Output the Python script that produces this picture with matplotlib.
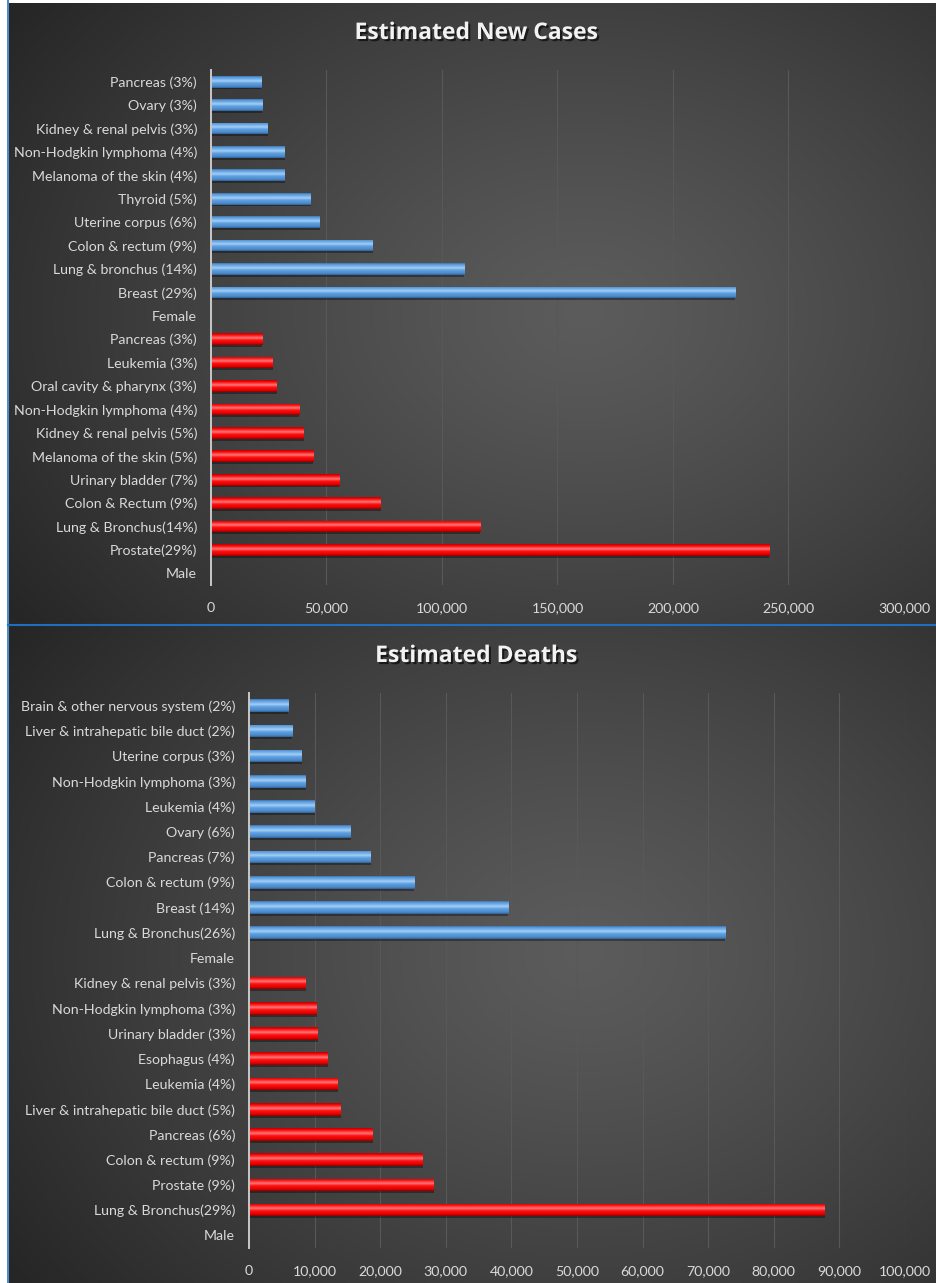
import numpy as np
import matplotlib
matplotlib.use("Agg")
import matplotlib.pyplot as plt
from matplotlib.colors import LinearSegmentedColormap
from matplotlib.lines import Line2D
from matplotlib.ticker import FuncFormatter
import matplotlib.patheffects as pe

plt.rcParams['font.family'] = ['Lato', 'DejaVu Sans']

# ---- data (2012 estimates) ----
cases_female_labels = ["Pancreas (3%)", "Ovary (3%)", "Kidney & renal pelvis (3%)",
                       "Non-Hodgkin lymphoma (4%)", "Melanoma of the skin (4%)", "Thyroid (5%)",
                       "Uterine corpus (6%)", "Colon & rectum (9%)", "Lung & bronchus (14%)",
                       "Breast (29%)"]
cases_female = [21830, 22280, 24520, 31970, 32000, 43210, 47130, 70040, 109690, 226870]

cases_male_labels = ["Pancreas (3%)", "Leukemia (3%)", "Oral cavity & pharynx (3%)",
                     "Non-Hodgkin lymphoma (4%)", "Kidney & renal pelvis (5%)",
                     "Melanoma of the skin (5%)", "Urinary bladder (7%)", "Colon & Rectum (9%)",
                     "Lung & Bronchus(14%)", "Prostate(29%)"]
cases_male = [22090, 26830, 28540, 38160, 40250, 44250, 55600, 73420, 116470, 241740]

deaths_female_labels = ["Brain & other nervous system (2%)", "Liver & intrahepatic bile duct (2%)",
                        "Uterine corpus (3%)", "Non-Hodgkin lymphoma (3%)", "Leukemia (4%)",
                        "Ovary (6%)", "Pancreas (7%)", "Colon & rectum (9%)", "Breast (14%)",
                        "Lung & Bronchus(26%)"]
deaths_female = [5980, 6570, 8010, 8620, 10040, 15500, 18540, 25220, 39510, 72590]

deaths_male_labels = ["Kidney & renal pelvis (3%)", "Non-Hodgkin lymphoma (3%)",
                      "Urinary bladder (3%)", "Esophagus (4%)", "Leukemia (4%)",
                      "Liver & intrahepatic bile duct (5%)", "Pancreas (6%)",
                      "Colon & rectum (9%)", "Prostate (9%)", "Lung & Bronchus(29%)"]
deaths_male = [8650, 10320, 10510, 12040, 13500, 13980, 18850, 26470, 28170, 87750]

W, H = 937, 1283
fig = plt.figure(figsize=(W / 100, H / 100), dpi=100, facecolor='white')


def rect(x0, y0, x1, y1):
    # pixel box (top-left origin) -> figure fraction
    return [x0 / W, 1 - y1 / H, (x1 - x0) / W, (y1 - y0) / H]


blue_cmap = LinearSegmentedColormap.from_list("b", [
    (0.0, "#2c5e92"), (0.12, "#4a88c8"), (0.4, "#5e9ee0"), (0.6, "#a4d0f6"),
    (0.75, "#74b0ea"), (0.9, "#5a98d8"), (1.0, "#3d74ae")])
red_cmap = LinearSegmentedColormap.from_list("r", [
    (0.0, "#8a0000"), (0.12, "#dd0000"), (0.4, "#ff1010"), (0.6, "#ff7a7a"),
    (0.75, "#ff3030"), (0.9, "#f00000"), (1.0, "#b80000")])

grad = np.linspace(0, 1, 64).reshape(-1, 1)


def background(box):
    bg = fig.add_axes(rect(*box), zorder=-5)
    yy, xx = np.mgrid[0:1:300j, 0:1:300j]
    r = np.sqrt(((xx - 0.62) / 0.75) ** 2 + ((yy - 0.5) / 0.85) ** 2)
    r = np.clip(r, 0, 1)
    v = 0.36 - 0.21 * r ** 1.2
    bg.imshow(np.dstack([v, v, v]), extent=[0, 1, 0, 1], aspect='auto', origin='lower')
    bg.set_axis_off()


def gbars(ax, ys, vals, cmap, h):
    ax.barh(ys - 0.08, vals, height=h, color='black', alpha=0.35, zorder=2, linewidth=0)
    bars = ax.barh(ys, vals, height=h, color='none', linewidth=0, zorder=3)
    for p in bars:
        im = ax.imshow(grad, extent=[p.get_x(), p.get_x() + p.get_width(),
                                      p.get_y(), p.get_y() + p.get_height()],
                       origin='lower', aspect='auto', cmap=cmap, zorder=3,
                       interpolation='bilinear')
        im.set_clip_path(p)


def panel(box, bg_box, title, title_y, f_labels, f_vals, m_labels, m_vals, xmax, step):
    background(bg_box)
    ax = fig.add_axes(rect(*box))
    ax.set_facecolor('none')
    labels = f_labels + ["Female"] + m_labels + ["Male"]
    n = len(labels)
    ypos = np.arange(n)[::-1]
    yf = ypos[:len(f_labels)]
    ym = ypos[len(f_labels) + 1:len(f_labels) + 1 + len(m_labels)]
    gbars(ax, yf, np.array(f_vals), blue_cmap, 0.5)
    gbars(ax, ym, np.array(m_vals), red_cmap, 0.5)
    ax.set_yticks(ypos)
    ax.set_yticklabels(labels)
    ax.set_xticks(np.arange(0, xmax + 1, step))
    ax.xaxis.set_major_formatter(FuncFormatter(lambda v, _: f"{int(v):,}"))
    ax.set_xlim(0, xmax)
    ax.set_ylim(-0.5, n - 0.5)
    ax.grid(axis='x', color='#585858', linewidth=0.8, zorder=0)
    ax.set_axisbelow(True)
    for s in ['top', 'right', 'bottom']:
        ax.spines[s].set_visible(False)
    ax.spines['left'].set_color('#c8c8c8')
    ax.spines['left'].set_linewidth(1.4)
    ax.spines['left'].set_zorder(4)
    ax.tick_params(axis='both', length=0, colors='#d9d9d9', labelsize=10.2)
    ax.tick_params(axis='y', pad=10)
    ax.tick_params(axis='x', pad=12)
    t = fig.text(476 / W, 1 - title_y / H, title, ha='center', va='center',
                 fontsize=16.5, fontweight='bold', color='#f2f2f2',
                 family=['Open Sans', 'DejaVu Sans'])
    t.set_path_effects([pe.withSimplePatchShadow(offset=(1.5, -1.5),
                                                 shadow_rgbFace='black', alpha=0.6)])
    return ax


panel((211, 70, 904, 585), (9, 3, W, 624), "Estimated New Cases", 33,
      cases_female_labels, cases_female, cases_male_labels, cases_male, 300000, 50000)
panel((249, 693, 905, 1248), (9, 626, W, H), "Estimated Deaths", 656,
      deaths_female_labels, deaths_female, deaths_male_labels, deaths_male, 100000, 10000)

# blue frame lines
fig.add_artist(Line2D([8 / W, 8 / W], [0, 1], color='#2e75c0', linewidth=1.2))
fig.add_artist(Line2D([8 / W, 1], [1 - 624.5 / H, 1 - 624.5 / H], color='#1f6fc0', linewidth=1.5))

fig.savefig("out.png", dpi=100, facecolor='white')
